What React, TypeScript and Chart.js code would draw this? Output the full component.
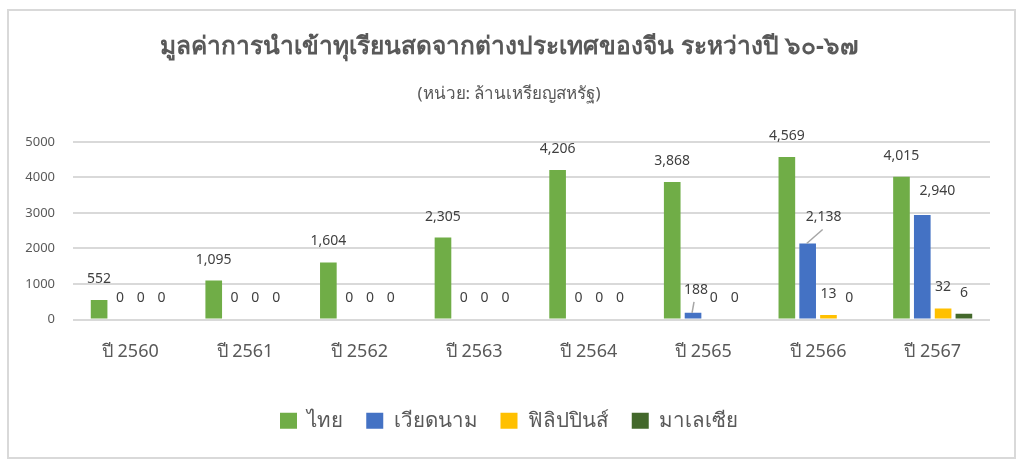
import { useEffect, useRef } from 'react';
import { Chart, registerables } from 'chart.js';

Chart.register(...registerables);

const years = ['ปี 2560', 'ปี 2561', 'ปี 2562', 'ปี 2563', 'ปี 2564', 'ปี 2565', 'ปี 2566', 'ปี 2567'];
const seriesNames = ['ไทย', 'เวียดนาม', 'ฟิลิปปินส์', 'มาเลเซีย'];

// bar heights as drawn
const thaiValues = [552, 1095, 1604, 2305, 4206, 3868, 4569, 4015];
const vietnamValues = [0, 0, 0, 0, 0, 188, 2138, 2940];
const philippinesValues = [0, 0, 0, 0, 0, 0, 130, 310];
const malaysiaValues = [0, 0, 0, 0, 0, 0, 0, 160];

// numbers printed on top of the bars
const thaiLabels = [552, 1095, 1604, 2305, 4206, 3868, 4569, 4015];
const vietnamLabels = [0, 0, 0, 0, 0, 188, 2138, 2940];
const philippinesLabels = [0, 0, 0, 0, 0, 0, 13, 32];
const malaysiaLabels = [0, 0, 0, 0, 0, 0, 0, 6];

const yTicks = [0, 1000, 2000, 3000, 4000, 5000];

const FONT = '"Noto Sans", "Open Sans", sans-serif';
const TEXT = '#595959';

const labelSets = [thaiLabels, vietnamLabels, philippinesLabels, malaysiaLabels];

// a few labels sit off to the side, some with a leader line
const labelNudges: Record<string, { dx: number; dy: number; line?: boolean }> = {
   '1-5': { dx: 3, dy: -2, line: true },
   '1-6': { dx: 16, dy: -5, line: true },
   '1-7': { dx: 15, dy: -3 },
};

const valueLabels = {
   id: 'valueLabels',
   afterDatasetsDraw(chart: Chart) {
      const ctx = chart.ctx;
      ctx.save();
      ctx.font = `14px ${FONT}`;
      ctx.fillStyle = '#404040';
      ctx.textAlign = 'center';
      ctx.textBaseline = 'middle';
      chart.data.datasets.forEach((_ds, di) => {
         const meta = chart.getDatasetMeta(di);
         meta.data.forEach((bar: any, i: number) => {
            const text = labelSets[di][i].toLocaleString('en-US');
            const nudge = labelNudges[`${di}-${i}`];
            let x = bar.x;
            let y = bar.y - 21;
            if (nudge) {
               x += nudge.dx;
               y += nudge.dy;
               if (nudge.line) {
                  ctx.strokeStyle = '#a6a6a6';
                  ctx.lineWidth = 1.5;
                  ctx.beginPath();
                  ctx.moveTo(bar.x - 1, bar.y);
                  ctx.lineTo(x - (nudge.dx > 5 ? 1 : 2), y + 12);
                  ctx.stroke();
               }
            }
            ctx.fillText(text, x, y);
         });
      });
      ctx.restore();
   },
};

export default function App() {
   const chartRef = useRef<HTMLCanvasElement>(null);
   const chartInstance = useRef<Chart | null>(null);

   useEffect(() => {
      if (!chartRef.current) return;
      const ctx = chartRef.current.getContext('2d');
      if (!ctx) return;

      if (chartInstance.current) {
         chartInstance.current.destroy();
      }

      chartInstance.current = new Chart(ctx, {
         type: 'bar',
         data: {
            labels: years,
            datasets: [
               { label: seriesNames[0], data: thaiValues, backgroundColor: '#70ad47' },
               { label: seriesNames[1], data: vietnamValues, backgroundColor: '#4472c4' },
               { label: seriesNames[2], data: philippinesValues, backgroundColor: '#ffc000' },
               { label: seriesNames[3], data: malaysiaValues, backgroundColor: '#43682b' },
            ],
         },
         options: {
            responsive: true,
            maintainAspectRatio: false,
            animation: false,
            datasets: {
               bar: {
                  categoryPercentage: 0.726,
                  barPercentage: 0.8,
               },
            },
            layout: {
               padding: { left: 14, right: 20, top: 0, bottom: 27 },
            },
            plugins: {
               title: {
                  display: true,
                  text: 'มูลค่าการนำเข้าทุเรียนสดจากต่างประเทศของจีน ระหว่างปี ๖๐-๖๗',
                  color: TEXT,
                  font: { family: FONT, size: 24.5, weight: 'bold', lineHeight: 1.2 },
                  padding: { top: 32, bottom: 0 },
               },
               subtitle: {
                  display: true,
                  text: '(หน่วย: ล้านเหรียญสหรัฐ)',
                  color: TEXT,
                  font: { family: FONT, size: 17, lineHeight: 1.2 },
                  padding: { top: 23, bottom: 37 },
               },
               legend: {
                  position: 'bottom',
                  labels: {
                     color: TEXT,
                     font: { family: FONT, size: 20.5 },
                     boxWidth: 17,
                     boxHeight: 16,
                     padding: 23,
                  },
               },
               tooltip: { enabled: false },
            },
            scales: {
               x: {
                  grid: { display: false, drawTicks: false },
                  border: { display: false },
                  ticks: {
                     color: TEXT,
                     font: { family: FONT, size: 18 },
                     padding: 22,
                  },
                  afterFit(scale: any) {
                     scale.height = 68;
                  },
               },
               y: {
                  min: 0,
                  max: 5000,
                  afterBuildTicks(scale: any) {
                     scale.ticks = yTicks.map(v => ({ value: v }));
                  },
                  grid: { color: '#d9d9d9', lineWidth: 2, drawTicks: false },
                  border: { display: false },
                  ticks: {
                     color: TEXT,
                     font: { family: FONT, size: 13 },
                     padding: 18,
                     callback: (v: any) => String(v),
                  },
                  afterFit(scale: any) {
                     scale.width = 59;
                  },
               },
               // empty spacer on the right so the titles and legend stay centred on the page
               spacer: {
                  type: 'linear',
                  position: 'right',
                  grid: { display: false, drawTicks: false },
                  border: { display: false },
                  ticks: { display: false },
                  afterFit(scale: any) {
                     scale.width = 14;
                  },
               },
            },
         },
         plugins: [valueLabels],
      });

      return () => {
         if (chartInstance.current) {
            chartInstance.current.destroy();
            chartInstance.current = null;
         }
      };
   }, []);

   return (
      <div style={{ position: 'absolute', left: 0, top: 0, width: 1024, height: 468, background: '#fff' }}>
         <canvas ref={chartRef}></canvas>
         <div
            style={{
               position: 'absolute',
               left: 7,
               top: 9,
               width: 1009,
               height: 450,
               border: '2px solid #d9d9d9',
               boxSizing: 'border-box',
               pointerEvents: 'none',
            }}
         ></div>
      </div>
   );
}
